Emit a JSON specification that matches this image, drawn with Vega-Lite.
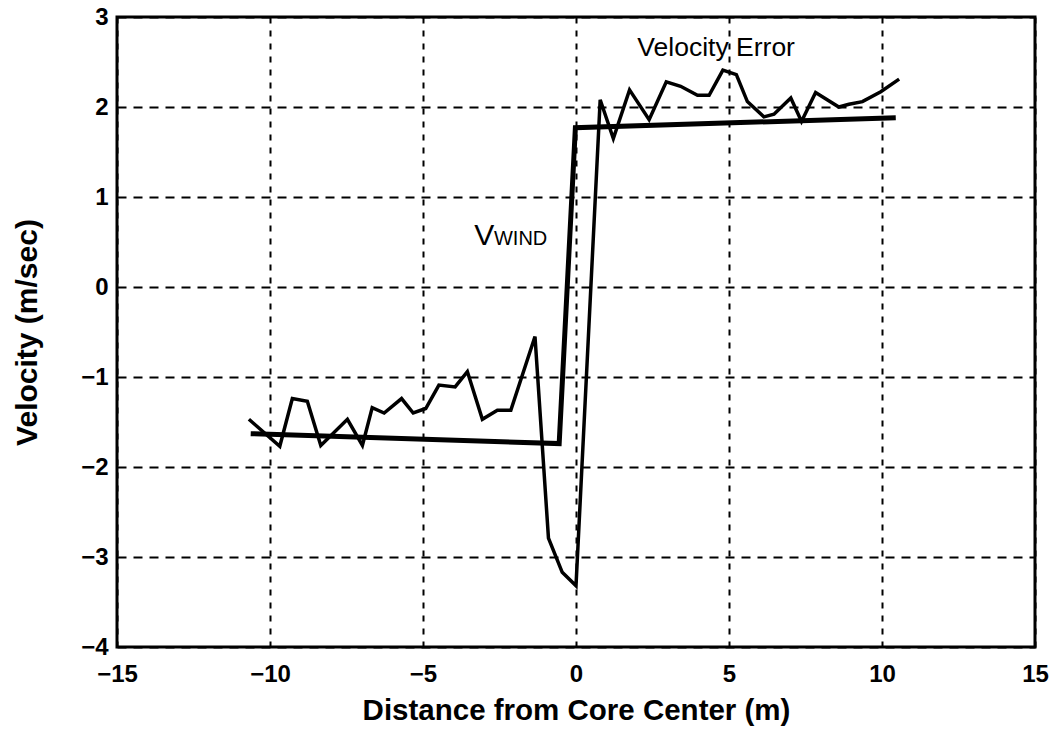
{
  "$schema": "https://vega.github.io/schema/vega-lite/v6.json",
  "width": 918,
  "height": 630,
  "autosize": "none",
  "padding": {"left": 117, "top": 17, "right": 20, "bottom": 82},
  "background": "white",
  "config": {
    "font": "Liberation Sans",
    "view": {"stroke": "black", "strokeWidth": 3},
    "axis": {
      "domain": false,
      "labelFont": "Liberation Sans",
      "labelFontWeight": "bold",
      "labelFontSize": 24,
      "labelColor": "black",
      "titleFont": "Liberation Sans",
      "titleFontWeight": "bold",
      "titleColor": "black",
      "gridColor": "black",
      "gridWidth": 2,
      "gridOpacity": 1,
      "tickColor": "black",
      "tickSize": -5,
      "tickWidth": 1
    }
  },
  "datasets": {
    "error": [
      {"x": -10.69, "v": -1.47}, {"x": -9.68, "v": -1.77}, {"x": -9.27, "v": -1.24},
      {"x": -8.78, "v": -1.27}, {"x": -8.34, "v": -1.76}, {"x": -7.47, "v": -1.47},
      {"x": -6.98, "v": -1.76}, {"x": -6.66, "v": -1.34}, {"x": -6.27, "v": -1.40},
      {"x": -5.70, "v": -1.24}, {"x": -5.32, "v": -1.40}, {"x": -4.91, "v": -1.35},
      {"x": -4.48, "v": -1.09}, {"x": -3.95, "v": -1.11}, {"x": -3.55, "v": -0.94},
      {"x": -3.06, "v": -1.47}, {"x": -2.57, "v": -1.37}, {"x": -2.13, "v": -1.37},
      {"x": -1.34, "v": -0.55}, {"x": -0.90, "v": -2.79}, {"x": -0.45, "v": -3.17},
      {"x": 0.00, "v": -3.32}, {"x": 0.79, "v": 2.08}, {"x": 1.22, "v": 1.65},
      {"x": 1.75, "v": 2.19}, {"x": 2.39, "v": 1.86}, {"x": 2.95, "v": 2.28},
      {"x": 3.42, "v": 2.23}, {"x": 3.97, "v": 2.13}, {"x": 4.35, "v": 2.13},
      {"x": 4.80, "v": 2.41}, {"x": 5.24, "v": 2.36}, {"x": 5.60, "v": 2.06},
      {"x": 6.14, "v": 1.89}, {"x": 6.47, "v": 1.92}, {"x": 7.02, "v": 2.10},
      {"x": 7.37, "v": 1.84}, {"x": 7.83, "v": 2.16}, {"x": 8.59, "v": 2.00},
      {"x": 8.92, "v": 2.03}, {"x": 9.36, "v": 2.06}, {"x": 9.96, "v": 2.17},
      {"x": 10.56, "v": 2.31}
    ],
    "wind": [
      {"x": -10.63, "v": -1.63}, {"x": -0.55, "v": -1.74},
      {"x": -0.02, "v": 1.77}, {"x": 10.45, "v": 1.88}
    ]
  },
  "layer": [
    {
      "data": {"name": "wind"},
      "mark": {"type": "line", "color": "black", "strokeWidth": 5, "strokeJoin": "miter"},
      "encoding": {
        "x": {
          "field": "x", "type": "quantitative",
          "scale": {"domain": [-15, 15], "nice": false, "zero": false},
          "axis": {
            "values": [-15, -10, -5, 0, 5, 10, 15],
            "format": "d",
            "title": "Distance from Core Center (m)",
            "titleFontSize": 29.5,
            "titlePadding": 10,
            "labelPadding": 20,
            "gridDash": [6, 7],
            "labelFlush": false
          }
        },
        "y": {
          "field": "v", "type": "quantitative",
          "scale": {"domain": [-4, 3], "nice": false, "zero": false},
          "axis": {
            "values": [-4, -3, -2, -1, 0, 1, 2, 3],
            "format": "d",
            "title": "Velocity (m/sec)",
            "titleFontSize": 30,
            "titlePadding": 38,
            "labelPadding": 14,
            "gridDash": [9, 7],
            "labelFlush": false
          }
        }
      }
    },
    {
      "data": {"name": "error"},
      "mark": {"type": "line", "color": "black", "strokeWidth": 3.5, "strokeJoin": "miter"},
      "encoding": {
        "x": {"field": "x", "type": "quantitative"},
        "y": {"field": "v", "type": "quantitative"}
      }
    },
    {
      "data": {"values": [{"x": 4.58, "v": 2.567, "text": "Velocity Error"}]},
      "mark": {"type": "text", "fontSize": 26.5, "color": "black", "font": "Liberation Sans", "align": "center", "baseline": "alphabetic"},
      "encoding": {
        "x": {"field": "x", "type": "quantitative"},
        "y": {"field": "v", "type": "quantitative"},
        "text": {"field": "text"}
      }
    },
    {
      "data": {"values": [{"x": -3.0, "v": 0.467, "text": "V"}]},
      "mark": {"type": "text", "fontSize": 30, "color": "black", "font": "Liberation Sans", "align": "center", "baseline": "alphabetic"},
      "encoding": {
        "x": {"field": "x", "type": "quantitative"},
        "y": {"field": "v", "type": "quantitative"},
        "text": {"field": "text"}
      }
    },
    {
      "data": {"values": [{"x": -1.81, "v": 0.467, "text": "WIND"}]},
      "mark": {"type": "text", "fontSize": 20, "color": "black", "font": "Liberation Sans", "align": "center", "baseline": "alphabetic"},
      "encoding": {
        "x": {"field": "x", "type": "quantitative"},
        "y": {"field": "v", "type": "quantitative"},
        "text": {"field": "text"}
      }
    }
  ]
}
